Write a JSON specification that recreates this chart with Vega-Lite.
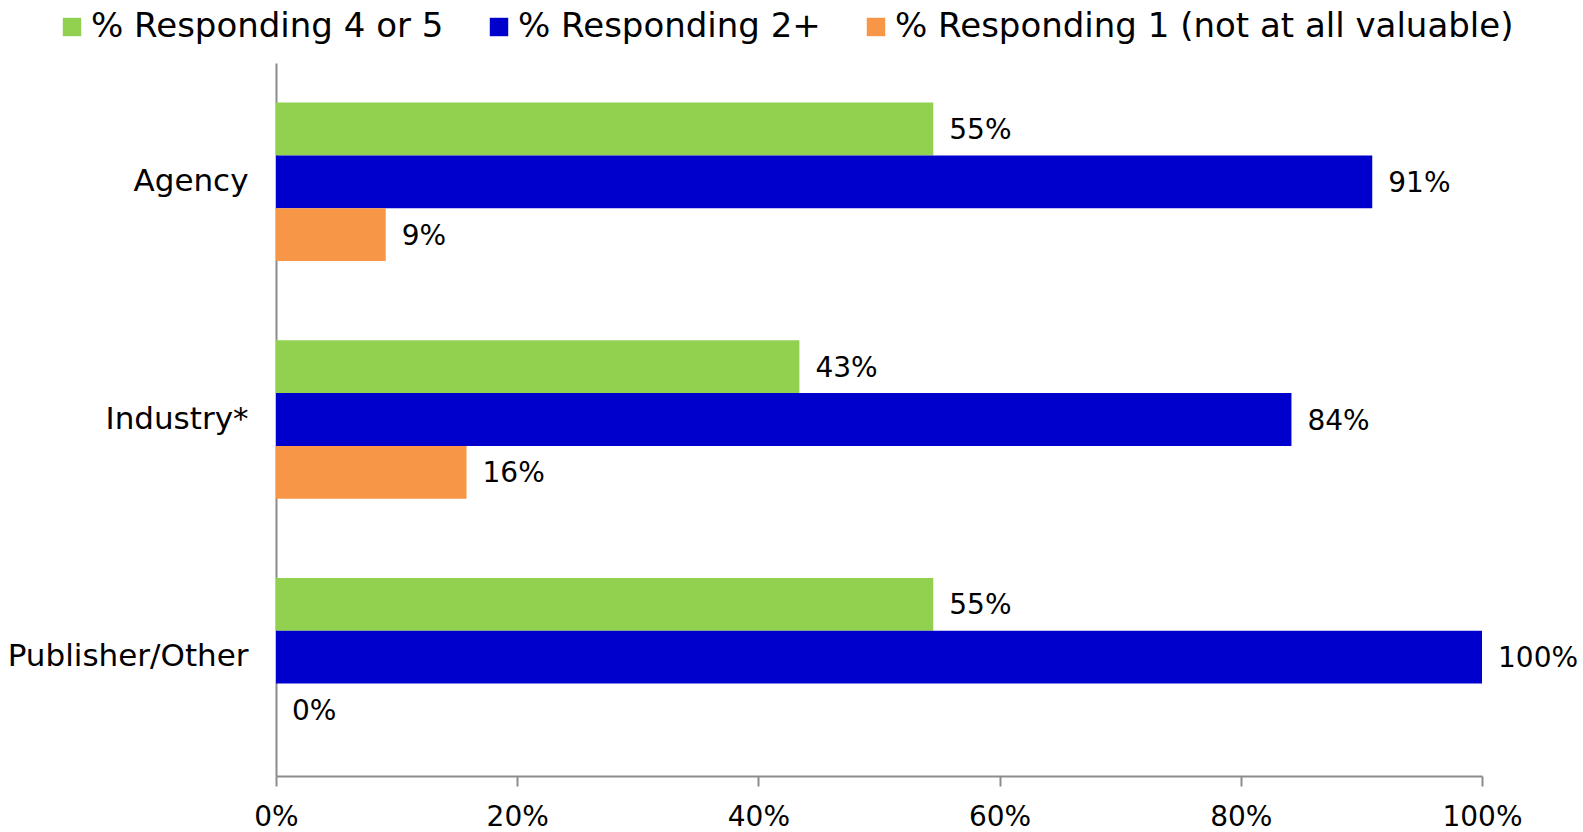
{
  "$schema": "https://vega.github.io/schema/vega-lite/v6.json",
  "autosize": {"type": "none"},
  "width": 1206,
  "height": 713,
  "padding": {"left": 276, "top": 63, "right": 101, "bottom": 56},
  "background": "white",
  "config": {
    "font": "DejaVu Sans",
    "view": {"stroke": null}
  },
  "data": {
    "values": [
      {"category": "Agency", "series": "% Responding 4 or 5", "value": 0.545},
      {"category": "Agency", "series": "% Responding 2+", "value": 0.909},
      {"category": "Agency", "series": "% Responding 1 (not at all valuable)", "value": 0.091},
      {"category": "Industry*", "series": "% Responding 4 or 5", "value": 0.434},
      {"category": "Industry*", "series": "% Responding 2+", "value": 0.842},
      {"category": "Industry*", "series": "% Responding 1 (not at all valuable)", "value": 0.158},
      {"category": "Publisher/Other", "series": "% Responding 4 or 5", "value": 0.545},
      {"category": "Publisher/Other", "series": "% Responding 2+", "value": 1.0},
      {"category": "Publisher/Other", "series": "% Responding 1 (not at all valuable)", "value": 0.0}
    ]
  },
  "encoding": {
    "y": {
      "field": "category",
      "type": "nominal",
      "sort": ["Agency", "Industry*", "Publisher/Other"],
      "scale": {"paddingInner": 0.333, "paddingOuter": 0.1667},
      "axis": {
        "title": null,
        "ticks": false,
        "tickSize": 0,
        "domainColor": "#8c8c8c",
        "domainWidth": 2,
        "labelFontSize": 31,
        "labelColor": "#000000",
        "labelPadding": 28,
        "labelLimit": 400
      }
    },
    "yOffset": {
      "field": "series",
      "type": "nominal",
      "sort": ["% Responding 4 or 5", "% Responding 2+", "% Responding 1 (not at all valuable)"],
      "scale": {"paddingInner": 0, "paddingOuter": 0}
    },
    "x": {
      "field": "value",
      "type": "quantitative",
      "scale": {"domain": [0, 1], "nice": false},
      "axis": {
        "title": null,
        "format": ".0%",
        "values": [0, 0.2, 0.4, 0.6, 0.8, 1.0],
        "grid": false,
        "labelFlush": false,
        "labelBound": false,
        "labelOverlap": false,
        "domainColor": "#8c8c8c",
        "domainWidth": 2,
        "tickColor": "#8c8c8c",
        "tickWidth": 2,
        "tickSize": 10,
        "labelFontSize": 28,
        "labelColor": "#000000",
        "labelPadding": 17
      }
    }
  },
  "layer": [
    {
      "mark": {"type": "bar"},
      "encoding": {
        "color": {
          "field": "series",
          "type": "nominal",
          "scale": {
            "domain": ["% Responding 4 or 5", "% Responding 2+", "% Responding 1 (not at all valuable)"],
            "range": ["#92D050", "#0000CC", "#F79646"]
          },
          "legend": {
            "title": null,
            "orient": "none",
            "direction": "horizontal",
            "legendX": -221,
            "legendY": -53,
            "symbolType": "square",
            "symbolSize": 340,
            "symbolStrokeWidth": 0,
            "labelFontSize": 34,
            "labelColor": "#000000",
            "labelOffset": 2,
            "columnPadding": 38,
            "labelLimit": 800
          }
        }
      }
    },
    {
      "mark": {"type": "text", "align": "left", "baseline": "middle", "dx": 16, "dy": 2, "fontSize": 28, "color": "#000000"},
      "encoding": {
        "text": {"field": "value", "type": "quantitative", "format": ".0%"}
      }
    }
  ]
}
